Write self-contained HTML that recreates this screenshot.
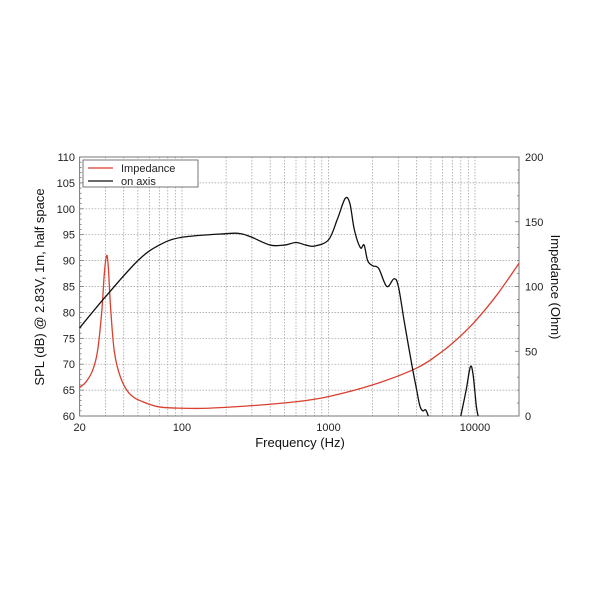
<!DOCTYPE html><html><head><style>body{margin:0;background:#fff}svg{font-family:"Liberation Sans",Arial,sans-serif}</style></head><body>
<svg id="s" width="600" height="600" xmlns="http://www.w3.org/2000/svg"></svg>
<script>
const L=79.6,R=519,T=157,B=416,D=146.5;
const X=f=>L+D*Math.log10(f/20), Ys=d=>B-(d-60)*(B-T)/50, Yi=o=>B-o*(B-T)/200;
let h='';
for(let e=1;e<=4;e++)for(let m=1;m<10;m++){const f=m*Math.pow(10,e);if(f<=20||f>=20000)continue;const x=X(f);h+=`<line x1="${x}" y1="${T}" x2="${x}" y2="${B}" stroke="#999" stroke-width="0.7" stroke-dasharray="1.5,1.5"/>`;}
for(let d=65;d<110;d+=5){const y=Ys(d);h+=`<line x1="${L}" y1="${y}" x2="${R}" y2="${y}" stroke="#999" stroke-width="0.7" stroke-dasharray="1.5,1.5"/>`;}
for(let d=60;d<=110;d++){const y=Ys(d);h+=`<line x1="${L}" y1="${y}" x2="${L+(d%5?2:4)}" y2="${y}" stroke="#666" stroke-width="0.7"/>`;}
for(let o=0;o<=200;o+=10){const y=Yi(o);h+=`<line x1="${R}" y1="${y}" x2="${R-(o%50?2:4)}" y2="${y}" stroke="#666" stroke-width="0.7"/>`;}
h+=`<rect x="${L}" y="${T}" width="${R-L}" height="${B-T}" fill="none" stroke="#777" stroke-width="1"/>`;
for(let d=60;d<=110;d+=5)h+=`<text x="75" y="${Ys(d)+4}" font-size="11" text-anchor="end" fill="#222">${d}</text>`;
for(let o=0;o<=200;o+=50)h+=`<text x="525" y="${Yi(o)+4}" font-size="11" fill="#222">${o}</text>`;
[[20,'20'],[100,'100'],[1000,'1000'],[10000,'10000']].forEach(([f,t])=>h+=`<text x="${X(f)}" y="431" font-size="11" text-anchor="middle" fill="#222">${t}</text>`);
h+=`<text x="300" y="447" font-size="13" text-anchor="middle" fill="#111">Frequency (Hz)</text>`;
h+=`<text transform="translate(44,287) rotate(-90)" font-size="13" text-anchor="middle" fill="#111">SPL (dB) @ 2.83V, 1m, half space</text>`;
h+=`<text transform="translate(551,287) rotate(90)" font-size="13" text-anchor="middle" fill="#111">Impedance (Ohm)</text>`;
function path(pts){let p=pts.map(a=>[X(a[0]),a[1]]);let s=`M${p[0][0]},${p[0][1]}`;for(let i=0;i<p.length-1;i++){const p0=p[Math.max(0,i-1)],p1=p[i],p2=p[i+1],p3=p[Math.min(p.length-1,i+2)];s+=` C${p1[0]+(p2[0]-p0[0])/6},${p1[1]+(p2[1]-p0[1])/6} ${p2[0]-(p3[0]-p1[0])/6},${p2[1]-(p3[1]-p1[1])/6} ${p2[0]},${p2[1]}`;}return s;}
const imp=[[20,22],[22,26],[24.5,35],[26.5,50],[28.3,80],[29.5,110],[30.6,124],[31.4,115],[32.5,85],[34.5,50],[38,30],[44,17],[54,11],[70,7],[100,6],[150,6],[300,8],[600,11],[1000,15],[2000,24],[4000,37],[6000,50],[8000,62],[10000,73],[14000,93],[20000,118]].map(a=>[a[0],Yi(a[1])]);
const s1=[[20,77],[30,83],[50,90],[70,93],[100,94.5],[200,95.2],[250,95.2],[300,94.5],[400,93],[500,93],[600,93.5],[700,93],[800,92.8],[1000,94],[1150,98],[1300,102],[1400,101],[1500,96],[1650,92.5],[1750,93],[1850,90],[2000,89],[2200,88.5],[2500,85],[2800,86.5],[3000,85],[3300,78],[3700,70],[4000,65],[4200,62],[4400,61],[4600,61.2],[4800,60]].map(a=>[a[0],Ys(a[1])]);
const s2=[[8000,60],[8700,65],[9300,69.5],[9700,68],[10200,62],[10500,60]].map(a=>[a[0],Ys(a[1])]);
h+=`<path d="${path(imp)}" fill="none" stroke="#d9402f" stroke-width="1.3"/>`;
h+=`<path d="${path(s1)}" fill="none" stroke="#111" stroke-width="1.3"/>`;
h+=`<path d="${path(s2)}" fill="none" stroke="#111" stroke-width="1.3"/>`;
h+=`<rect x="83" y="160" width="115" height="27" fill="#fff" stroke="#555" stroke-width="0.8"/>`;
h+=`<line x1="88" y1="168" x2="113" y2="168" stroke="#d9402f" stroke-width="1.3"/><line x1="88" y1="181" x2="113" y2="181" stroke="#111" stroke-width="1.3"/>`;
h+=`<text x="121" y="172" font-size="11" fill="#222">Impedance</text><text x="121" y="185" font-size="11" fill="#222">on axis</text>`;
document.getElementById('s').innerHTML=h;
</script></body></html>
